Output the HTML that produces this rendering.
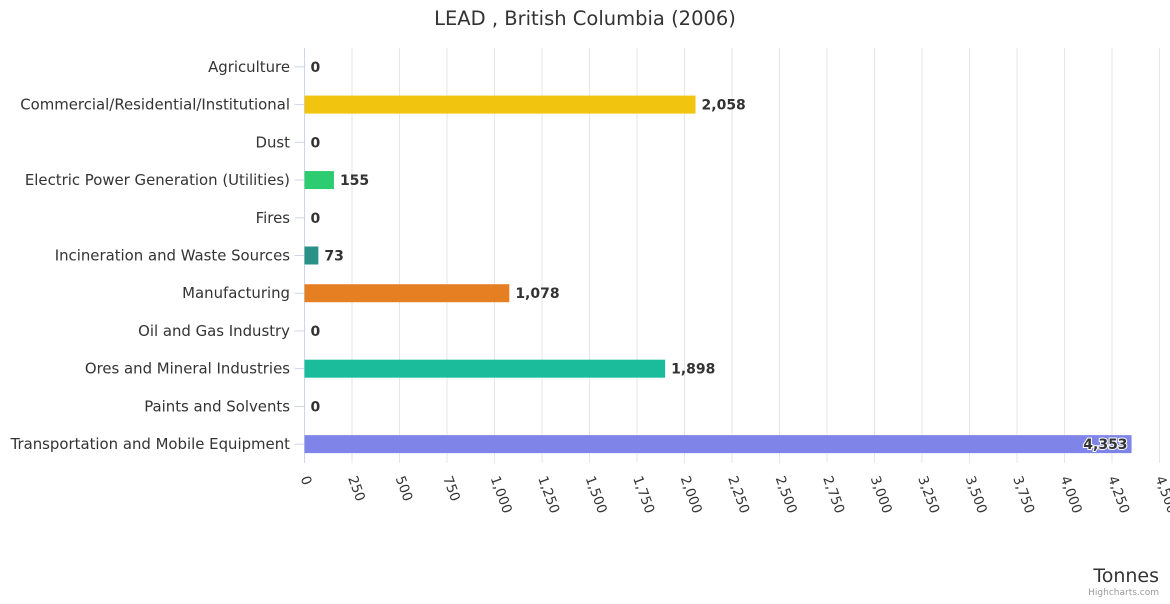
<!DOCTYPE html>
<html><head><meta charset="utf-8"><style>
body{margin:0;background:#fff;font-family:"DejaVu Sans","Liberation Sans",sans-serif}
</style></head><body>
<svg id="chart" width="1170" height="600" xmlns="http://www.w3.org/2000/svg" font-family="DejaVu Sans, Liberation Sans, sans-serif">
<text x="585" y="25" text-anchor="middle" font-size="19.5" fill="#333">LEAD , British Columbia (2006)</text>
<g id="grid"></g><g id="bars"></g><g id="ylabels"></g><g id="xlabels"></g>
<text x="1159" y="582" text-anchor="end" font-size="19" fill="#333">Tonnes</text>
<text x="1159" y="595" text-anchor="end" font-size="9" fill="#999">Highcharts.com</text>
</svg>
<script>
const categories=["Agriculture","Commercial/Residential/Institutional","Dust","Electric Power Generation (Utilities)","Fires","Incineration and Waste Sources","Manufacturing","Oil and Gas Industry","Ores and Mineral Industries","Paints and Solvents","Transportation and Mobile Equipment"];
const values=[0,2058,0,155,0,73,1078,0,1898,0,4353];
const colors=["#7f84e8","#f1c40f","#7f84e8","#2ecc71","#7f84e8","#2a9187","#e67e22","#7f84e8","#1abc9c","#7f84e8","#7f84e8"];
const ticks=[0,250,500,750,1000,1250,1500,1750,2000,2250,2500,2750,3000,3250,3500,3750,4000,4250,4500];
const NS="http://www.w3.org/2000/svg";
const X0=304.5,X1=1159.5,MAX=4500,TOP=48,BOT=463;
const x=v=>X0+v/MAX*(X1-X0);
const band=(BOT-TOP)/categories.length;
const yc=i=>TOP+band*(i+0.5);
const fmt=v=>v.toLocaleString("en-US");
function mk(tag,attrs,parent,text){const e=document.createElementNS(NS,tag);for(const k in attrs)e.setAttribute(k,attrs[k]);if(text!==undefined)e.textContent=text;document.getElementById(parent).appendChild(e);return e;}
ticks.forEach(t=>{
  const g=mk("line",{x1:x(t),x2:x(t),y1:TOP,y2:BOT,stroke:"#e6e6e6","stroke-width":1},"grid");
  
  
  const tx=x(t)-4,ty=478;
  const l=mk("text",{x:tx,y:ty,"font-size":13.5,fill:"#333",transform:`rotate(70 ${tx} ${ty})`},"xlabels",fmt(t));
  
  
});
const ax=mk("line",{x1:X0,x2:X0,y1:TOP,y2:BOT,stroke:"#ccd6eb","stroke-width":1},"grid");


categories.forEach((c,i)=>{
  const tk=mk("line",{x1:X0-10,x2:X0,y1:yc(i),y2:yc(i),stroke:"#ccd6eb"},"grid");
  
  
  const lab=mk("text",{x:290,y:yc(i)+5,"text-anchor":"end","font-size":14.9,fill:"#333"},"ylabels",c);
  
  
  const w=x(values[i])-X0;
  const b=mk("rect",{x:X0,y:yc(i)-9,width:Math.max(w,0),height:18,fill:colors[i]},"bars");
  
  
  const inside=w>700;
  const vl=mk("text",{x:inside?x(values[i])-4:x(values[i])+6,y:yc(i)+5,"text-anchor":inside?"end":"start","font-size":14,"font-weight":"bold",fill:"#333",stroke:inside?"#fff":"none","stroke-width":inside?2:0,"paint-order":"stroke"},"bars",fmt(values[i]));
  
  
});
</script>
</body></html>
